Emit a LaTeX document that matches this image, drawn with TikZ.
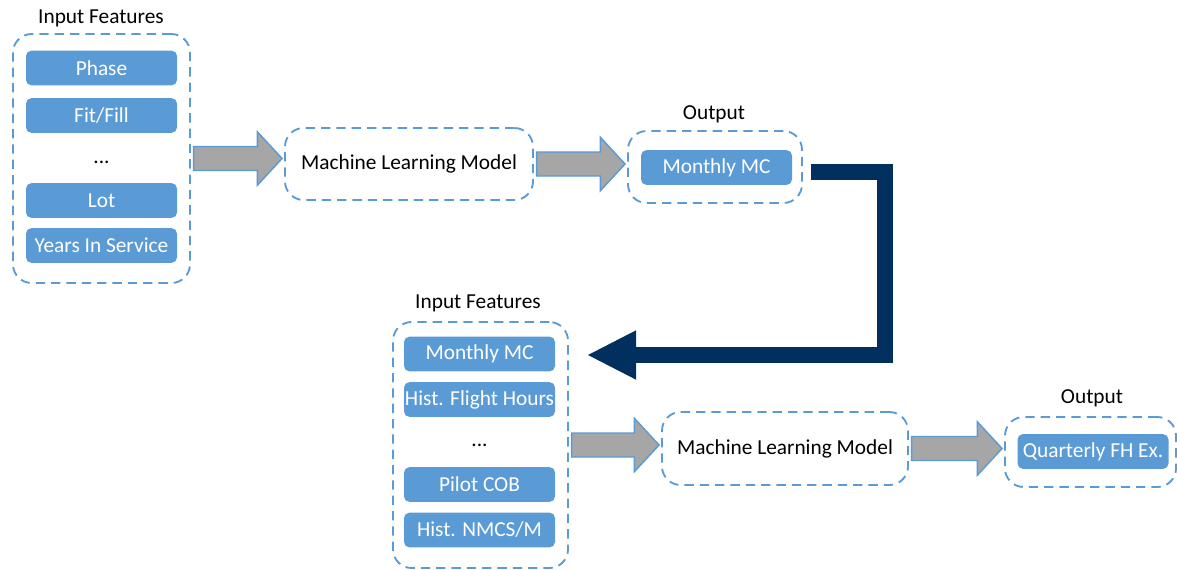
\documentclass[tikz,border=0pt]{standalone}
\usepackage{fontspec}
\setmainfont{Carlito}
\usetikzlibrary{arrows.meta,calc}
\definecolor{boxblue}{RGB}{91,155,213}
\definecolor{loopnavy}{RGB}{2,48,94}
\definecolor{arrowgray}{RGB}{166,166,166}
\tikzset{
	txt/.style={font=\fontsize{16}{19}\selectfont},
	feat/.style={txt, fill=boxblue, text=white, rounded corners=4pt, minimum width=113.25pt, minimum height=26pt, inner sep=0pt},
	dashbox/.style={txt, draw=boxblue, line width=1.4pt, dash pattern=on 7pt off 4.5pt, rounded corners=14pt, inner sep=0pt},
	fatarrow/.style={fill=arrowgray, draw=boxblue, line width=1.1pt, line join=miter},
	loopline/.style={draw=loopnavy, line width=12pt, line join=miter, -{Triangle[length=36pt,width=37pt,line width=0pt]}}
}
\newcommand{\grayarrow}[2]{%
	\path[fatarrow] let \p1=(#1.east), \p2=(#2.west) in
		(\x1+2pt,\y1+9pt) -- (\x2-20pt,\y1+9pt) -- (\x2-20pt,\y1+20pt) -- (\x2-1.5pt,\y1)
		-- (\x2-20pt,\y1-20pt) -- (\x2-20pt,\y1-9pt) -- (\x1+2pt,\y1-9pt) -- cycle;}
\begin{document}
\begin{tikzpicture}[x=0.75pt,y=-0.75pt]
	\useasboundingbox (0,0) rectangle (1177,569);

	\node[txt] (title1) at (101,18.5) {Input Features};
	\node[dashbox, minimum width=132.75pt, minimum height=186.75pt] (grp1) at (101.5,158.5) {};
	\node[feat] (phase) at (101.5,68) {Phase};
	\node[feat] (fitfill) at (101.5,115.5) {Fit/Fill};
	\node[txt] (dots1) at (101.5,162.5) {...};
	\node[feat] (lot) at (101.5,200.5) {Lot};
	\node[feat] (years) at (101.5,245.5) {Years In Service};

	\node[dashbox, minimum width=186pt, minimum height=54pt] (model1) at (409,164) {Machine Learning Model};

	\node[txt] (title2) at (714,114.5) {Output};
	\node[dashbox, minimum width=130.5pt, minimum height=54pt] (out1) at (715,167) {};
	\node[feat] (mmc1) at (716.5,167.5) {Monthly MC};

	\node[txt] (title3) at (478,303.5) {Input Features};
	\node[dashbox, minimum width=131.25pt, minimum height=184.5pt] (grp2) at (480.5,445) {};
	\node[feat] (mmc2) at (479.5,354) {Monthly MC};
	\node[feat] (flight) at (479.5,399.5) {Hist. Flight Hours};
	\node[txt] (dots2) at (479.5,445.5) {...};
	\node[feat] (cob) at (479.5,484.5) {Pilot COB};
	\node[feat] (nmcs) at (479.5,530) {Hist. NMCS/M};

	\node[dashbox, minimum width=184.5pt, minimum height=54.75pt] (model2) at (785,448.5) {Machine Learning Model};

	\node[txt] (title4) at (1092,398.5) {Output};
	\node[dashbox, minimum width=128.25pt, minimum height=52.5pt] (out2) at (1090.5,452) {};
	\node[feat] (fhex) at (1093,451.5) {Quarterly FH Ex.};

	\grayarrow{grp1}{model1}
	\grayarrow{model1}{out1}
	\grayarrow{grp2}{model2}
	\grayarrow{model2}{out2}

	\coordinate (loopstart) at ($(out1.east)+(6pt,-3.5pt)$);
	\coordinate (loopturn) at (885,355);
	\coordinate (looptip) at (588,355);
	\draw[loopline] (loopstart) -| (loopturn) -- (looptip);
\end{tikzpicture}
\end{document}
